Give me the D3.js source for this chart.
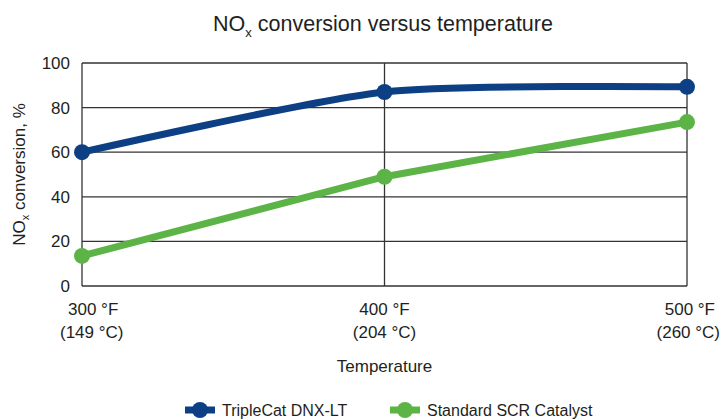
<!DOCTYPE html>
<html>
<head>
<meta charset="utf-8">
<script src="https://cdn.jsdelivr.net/npm/d3@7"></script>
<style>
  body { margin: 0; background: #fff; }
  text { font-family: "Liberation Sans", Arial, sans-serif; fill: #231f20; }
</style>
</head>
<body>
<div id="chart"></div>
<script>
const temps = [300, 400, 500];
const tempF = ["300 °F", "400 °F", "500 °F"];
const tempC = ["(149 °C)", "(204 °C)", "(260 °C)"];
const tripleCat = [60, 87, 89.3];
const standardScr = [13.5, 49, 73.5];
const yTicks = [0, 20, 40, 60, 80, 100];

const W = 721, H = 419;
const margin = { top: 63, right: 34, bottom: 133, left: 82 },
      width = W - margin.left - margin.right,
      height = H - margin.top - margin.bottom;

const svgRoot = d3.select("#chart").append("svg")
  .attr("width", W).attr("height", H);
const svg = svgRoot.append("g")
  .attr("transform", `translate(${margin.left},${margin.top})`);

const x = d3.scaleLinear().domain([300, 500]).range([0, width]);
const y = d3.scaleLinear().domain([0, 100]).range([height, 0]);

// grid
svg.append("g").selectAll("line").data(yTicks).join("line")
  .attr("x1", 0).attr("x2", width)
  .attr("y1", d => y(d)).attr("y2", d => y(d))
  .attr("stroke", "#333").attr("stroke-width", 1.3);
svg.append("g").selectAll("line").data(temps).join("line")
  .attr("x1", d => x(d)).attr("x2", d => x(d))
  .attr("y1", 0).attr("y2", height)
  .attr("stroke", "#333").attr("stroke-width", 1.3);

// y tick labels
svg.append("g").selectAll("text").data(yTicks).join("text")
  .attr("x", -12).attr("y", d => y(d)).attr("dy", "0.35em")
  .attr("text-anchor", "end").attr("font-size", 17)
  .text(d => d);

// x tick labels (two lines, outer ones kept inside the page)
const xl = svg.append("g").selectAll("text").data(temps).join("text")
  .attr("font-size", 17)
  .attr("text-anchor", (d, i) => i === 0 ? "start" : i === temps.length - 1 ? "end" : "middle")
  .attr("transform", (d, i) => {
    let px = x(d);
    if (i === 0) px = x(d) - 22;
    if (i === temps.length - 1) px = x(d) + 33;
    return `translate(${px},0)`;
  });
xl.append("tspan").attr("x", (d, i) => i === 0 ? 8 : i === temps.length - 1 ? -5 : 0)
  .attr("y", height + 29).text((d, i) => tempF[i]);
xl.append("tspan").attr("x", 0).attr("y", height + 52).text((d, i) => tempC[i]);

// axis titles
svg.append("text").attr("x", x(400)).attr("y", height + 86)
  .attr("text-anchor", "middle").attr("font-size", 17).text("Temperature");

const yl = svg.append("text")
  .attr("transform", `translate(-57,${height / 2}) rotate(-90)`)
  .attr("text-anchor", "middle").attr("font-size", 17);
yl.append("tspan").text("NO");
yl.append("tspan").attr("font-size", 11).attr("dy", 4).text("x");
yl.append("tspan").attr("dy", -4).text(" conversion, %");

// title
const title = svgRoot.append("text").attr("x", 383).attr("y", 31)
  .attr("text-anchor", "middle").attr("font-size", 21.5);
title.append("tspan").text("NO");
title.append("tspan").attr("font-size", 13).attr("dy", 6).text("x");
title.append("tspan").attr("dy", -6).text(" conversion versus temperature");

// series
const series = [
  { name: "TripleCat DNX-LT", values: tripleCat, color: "#0d3f84", curve: d3.curveCardinal.tension(0.3) },
  { name: "Standard SCR Catalyst", values: standardScr, color: "#5cb446", curve: d3.curveLinear }
];

series.forEach(s => {
  const pts = temps.map((t, i) => [t, s.values[i]]);
  const line = d3.line().x(d => x(d[0])).y(d => y(d[1])).curve(s.curve);
  svg.append("path").datum(pts)
    .attr("d", line).attr("fill", "none")
    .attr("stroke", s.color).attr("stroke-width", 7);
  svg.append("g").selectAll("circle").data(pts).join("circle")
    .attr("cx", d => x(d[0])).attr("cy", d => y(d[1])).attr("r", 8)
    .attr("fill", s.color);
});

// legend
const legendX = [185, 390];
const legend = svgRoot.append("g").selectAll("g").data(series).join("g")
  .attr("transform", (d, i) => `translate(${legendX[i]},410)`);
legend.append("line").attr("x1", 0).attr("x2", 30).attr("y1", 0).attr("y2", 0)
  .attr("stroke", d => d.color).attr("stroke-width", 7);
legend.append("circle").attr("cx", 15).attr("cy", 0).attr("r", 8).attr("fill", d => d.color);
legend.append("text").attr("x", 37).attr("y", 0).attr("dy", "0.35em")
  .attr("font-size", 16).text(d => d.name);
</script>
</body>
</html>
